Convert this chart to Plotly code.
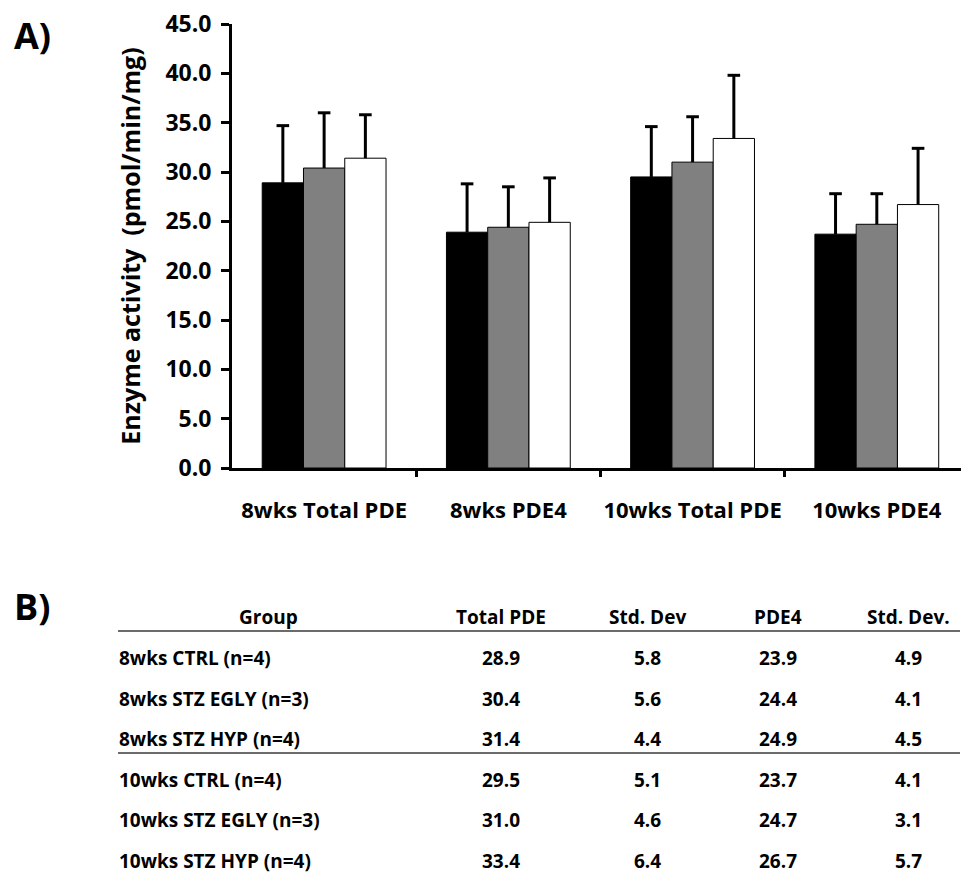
import plotly.graph_objects as go

# ---- data -------------------------------------------------------------
categories = ["8wks Total PDE", "8wks PDE4", "10wks Total PDE", "10wks PDE4"]
series_names = ["CTRL", "STZ EGLY", "STZ HYP"]
ctrl_mean = [28.9, 23.9, 29.5, 23.7]
ctrl_sd = [5.8, 4.9, 5.1, 4.1]
egly_mean = [30.4, 24.4, 31.0, 24.7]
egly_sd = [5.6, 4.1, 4.6, 3.1]
hyp_mean = [31.4, 24.9, 33.4, 26.7]
hyp_sd = [4.4, 4.5, 6.4, 5.7]
y_ticks = [0, 5, 10, 15, 20, 25, 30, 35, 40, 45]

table_header = ["Group", "Total PDE", "Std. Dev", "PDE4", "Std. Dev."]
table_groups = ["8wks CTRL (n=4)", "8wks STZ EGLY (n=3)", "8wks STZ HYP (n=4)",
                "10wks CTRL (n=4)", "10wks STZ EGLY (n=3)", "10wks STZ HYP (n=4)"]

means = [ctrl_mean, egly_mean, hyp_mean]
sds = [ctrl_sd, egly_sd, hyp_sd]
fills = ["#000000", "#808080", "#ffffff"]

# ---- layout geometry (pixels) -----------------------------------------
W, H = 961, 875
ML, MR, MT, MB = 232, 0, 24, 407
PW, PH = W - ML - MR, H - MT - MB
FONT = "Open Sans"
BARGAP = 0.328
n_series = len(series_names)
bar_w = (1 - BARGAP) / n_series
cat_pos = list(range(len(categories)))


def px_x(px):
    return (px - ML) / PW


def px_y(py):
    return (H - MB - py) / PH


fig = go.Figure()
for k, (name, m, s, c) in enumerate(zip(series_names, means, sds, fills)):
    shift = (k - (n_series - 1) / 2) * bar_w
    xs = [p + shift for p in cat_pos]
    # bar with an upward whisker (no caps on the whisker itself)
    fig.add_trace(go.Bar(
        x=xs, y=m, name=name, width=bar_w,
        marker=dict(color=c, line=dict(color="#000000", width=1)),
        error_y=dict(type="data", symmetric=False, array=s,
                     arrayminus=[0] * len(s), color="#000000",
                     thickness=3, width=0),
    ))
    # whisker caps at mean + SD
    fig.add_trace(go.Scatter(
        x=xs, y=[a + b for a, b in zip(m, s)], mode="markers",
        marker=dict(symbol="line-ew", size=9, color="#000000",
                    line=dict(color="#000000", width=3)),
        hoverinfo="skip", showlegend=False,
    ))

fig.update_layout(
    width=W, height=H,
    margin=dict(l=ML, r=MR, t=MT, b=MB, autoexpand=False),
    paper_bgcolor="white", plot_bgcolor="white",
    barmode="overlay",
    showlegend=False,
    font=dict(family=FONT, color="#000000"),
)
fig.update_xaxes(
    type="linear", range=[-0.5, 3.457],
    tickvals=cat_pos, ticktext=categories, tickangle=0,
    showline=True, linecolor="#000000", linewidth=3,
    ticks="", showgrid=False, zeroline=False,
    minor=dict(tickvals=[p + 0.5 for p in cat_pos[:-1]], ticks="outside",
               ticklen=6, tickwidth=3, tickcolor="#000000", showgrid=False),
    tickfont=dict(family=FONT, size=22, weight="bold"),
    ticklabelstandoff=21,
)
fig.update_yaxes(
    range=[0, 45], tickvals=y_ticks, tickformat=".1f",
    showline=True, linecolor="#000000", linewidth=3,
    ticks="outside", ticklen=8, tickwidth=3, tickcolor="#000000",
    showgrid=False, zeroline=False,
    tickfont=dict(family=FONT, size=23, weight="bold"),
    ticklabelstandoff=5,
    title=dict(text="Enzyme activity\u00a0 (pmol/min/mg)",
               font=dict(family=FONT, size=25, weight="bold"), standoff=18),
)

annotations = []
shapes = []

# panel letters
for letter, py in (("A)", 36), ("B)", 606)):
    annotations.append(dict(text=letter, x=px_x(12), y=px_y(py), xref="paper",
                            yref="paper", xanchor="left", yanchor="middle",
                            showarrow=False,
                            font=dict(family=FONT, size=36, weight="bold")))

# ---- summary table ----------------------------------------------------
TBL_LEFT, TBL_RIGHT = 118, 960
header_y = 617
col_centers = [268, 501, 647, 778, 908]
row_y0, row_step = 658, 40.6
tfont = dict(family=FONT, size=19, weight="bold")

for text, cx in zip(table_header, col_centers):
    annotations.append(dict(text=text, x=px_x(cx), y=px_y(header_y),
                            xref="paper", yref="paper", xanchor="center",
                            yanchor="middle", showarrow=False, borderpad=0,
                            font=tfont))

for i, label in enumerate(table_groups):
    week, s = divmod(i, 3)
    total_col = 2 * week
    pde4_col = 2 * week + 1
    row_vals = [means[s][total_col], sds[s][total_col],
                means[s][pde4_col], sds[s][pde4_col]]
    ry = row_y0 + i * row_step
    annotations.append(dict(text=label, x=px_x(TBL_LEFT), y=px_y(ry),
                            xref="paper", yref="paper", xanchor="left",
                            yanchor="middle", showarrow=False, borderpad=0,
                            font=tfont))
    for v, cx in zip(row_vals, col_centers[1:]):
        annotations.append(dict(text=f"{v:.1f}", x=px_x(cx), y=px_y(ry),
                                xref="paper", yref="paper", xanchor="center",
                                yanchor="middle", showarrow=False, borderpad=0,
                                font=tfont))

for ly in (631, 753):
    shapes.append(dict(type="line", xref="paper", yref="paper",
                       x0=px_x(TBL_LEFT), x1=px_x(TBL_RIGHT),
                       y0=px_y(ly), y1=px_y(ly),
                       line=dict(color="#3a3a3a", width=1.6)))

fig.update_layout(annotations=annotations, shapes=shapes)
fig.write_html("out.html")
